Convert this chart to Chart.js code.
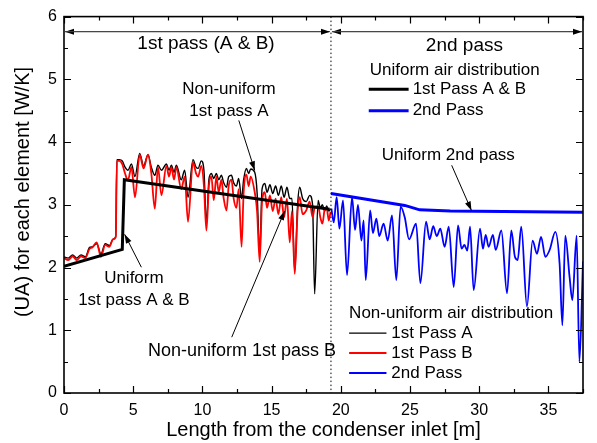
<!DOCTYPE html>
<html><head><meta charset="utf-8">
<script src="https://cdn.jsdelivr.net/npm/chart.js@4.4.1/dist/chart.umd.min.js"></script>
<style>html,body{margin:0;padding:0;background:#fff;}</style>
</head><body>
<canvas id="c" width="597" height="443"></canvas>
<script>
// ---------- data ----------
const pass1X = [0,0.31,0.62,0.92,1.23,1.54,1.85,2.05,2.36,2.67,2.98,3.28,3.54,3.74,3.82,4.00,4.21,4.41,4.62,4.87,5.13,5.47,5.75,6.07,6.31,6.56,6.79,7.04,7.40,7.59,7.76,7.95,8.12,8.47,8.72,8.96,9.32,9.54,9.69,9.92,10.11,10.29,10.47,10.65,10.82,11.01,11.18,11.37,11.54,11.74,11.90,12.10,12.26,12.46,12.62,12.83,12.98,13.18,13.34,13.49,13.78,13.95,14.14,14.31,14.51,14.67,14.88,15.08,15.29,15.49,15.70,15.90,16.11,16.31,16.47,16.67,16.88,17.03,17.24,17.50,17.75,17.96,18.11,18.36,18.52,18.67,18.83,18.98,19.13,19.26];
const pass1A = [2.17,2.15,2.20,2.15,2.20,2.17,2.32,2.33,2.38,2.22,2.38,2.35,2.45,2.50,3.72,3.72,3.70,3.60,3.55,3.65,3.45,3.82,3.62,3.80,3.60,3.47,3.63,3.55,3.65,3.55,3.63,3.52,3.63,3.40,3.55,3.12,3.72,3.60,3.58,3.70,3.55,2.70,3.40,3.50,3.42,3.50,3.40,3.47,3.35,3.28,3.45,3.47,3.35,3.30,3.42,3.10,3.40,3.58,3.50,3.57,3.52,3.20,2.22,3.25,3.34,3.20,3.32,3.18,3.30,3.15,3.30,3.12,3.28,3.10,3.10,1.93,3.00,3.28,3.10,3.05,3.15,3.00,1.58,3.07,2.95,3.00,2.90,2.98,2.90,2.94];
const pass1B = [2.15,2.12,2.18,2.12,2.18,2.15,2.30,2.32,2.40,2.17,2.36,2.33,2.45,2.48,3.70,3.70,3.65,3.50,3.39,3.60,3.12,3.80,3.58,3.80,3.50,2.94,3.60,3.15,3.62,3.45,3.60,3.40,3.60,3.25,3.45,2.73,3.68,3.50,3.45,3.62,3.30,2.59,3.30,3.45,3.07,3.45,3.20,3.40,3.10,2.91,3.30,3.40,3.10,2.95,3.25,2.33,3.20,3.48,3.30,3.45,3.20,2.90,2.09,3.05,3.20,2.95,3.15,2.90,3.10,2.85,3.12,2.80,3.10,2.40,2.90,1.90,2.90,3.12,2.85,2.91,3.05,2.80,2.95,2.98,2.80,2.70,2.92,2.95,2.75,2.89];
const pass2X = [19.32,19.49,19.70,19.90,20.16,20.45,20.81,21.03,21.24,21.49,21.65,21.80,22.12,22.32,22.57,22.78,23.09,23.39,23.70,24.01,24.32,24.62,24.93,25.44,25.75,26.16,26.42,26.68,26.93,27.19,27.50,27.80,28.16,28.47,28.73,28.93,29.14,29.34,29.60,30.06,30.27,30.47,30.68,30.99,31.19,31.60,32.01,32.32,32.58,32.78,33.04,33.45,33.86,34.17,34.47,34.78,35.09,35.50,35.81,36.01,36.22,36.53,36.73,37.04,37.24,37.50];
const pass2Y = [2.94,2.72,3.12,2.62,3.07,1.88,3.12,2.60,3.00,2.43,2.75,1.80,2.91,2.55,2.78,2.50,2.70,2.43,2.83,1.80,2.97,2.80,2.45,2.70,1.75,2.73,2.45,2.66,2.50,2.62,2.33,2.65,1.69,2.67,2.30,2.36,2.27,2.65,1.64,2.62,2.30,2.52,2.33,2.52,2.28,2.59,1.59,2.59,2.17,2.12,2.65,1.38,2.43,2.22,2.49,2.17,2.28,2.57,2.06,1.08,2.51,1.85,1.48,2.51,0.50,2.10];
const uni1X = [0,4.21,4.36,19.19];
const uni1Y = [2.02,2.29,3.40,2.93];
const uni2X = [19.29,24.62,25.70,27.91,37.5];
const uni2Y = [3.18,2.99,2.92,2.90,2.88];
const passBoundary = 19.29;
const xMajor = [0,5,10,15,20,25,30,35];
const xMinor = [2.5,7.5,12.5,17.5,22.5,27.5,32.5,37.5];
const yMajor = [0,1,2,3,4,5,6];
const yMinor = [0.5,1.5,2.5,3.5,4.5,5.5];

// ---------- helpers ----------
const FONT = "'Liberation Sans', Arial, Helvetica, sans-serif";
const toXY = (xs, ys) => xs.map((x, i) => ({x, y: ys[i]}));

function drawArrowHead(ctx, x1, y1, x2, y2, len, half) {
  const a = Math.atan2(y2 - y1, x2 - x1);
  ctx.beginPath();
  ctx.moveTo(x2, y2);
  ctx.lineTo(x2 - len * Math.cos(a) + half * Math.sin(a), y2 - len * Math.sin(a) - half * Math.cos(a));
  ctx.lineTo(x2 - len * Math.cos(a) - half * Math.sin(a), y2 - len * Math.sin(a) + half * Math.cos(a));
  ctx.closePath();
  ctx.fill();
}
function arrow(ctx, x1, y1, x2, y2, color) {
  ctx.strokeStyle = color || '#000'; ctx.fillStyle = '#000'; ctx.lineWidth = 1;
  ctx.beginPath(); ctx.moveTo(x1, y1); ctx.lineTo(x2, y2); ctx.stroke();
  drawArrowHead(ctx, x1, y1, x2, y2, 9, 3);
}

const overlay = {
  id: 'overlay',
  afterDatasetsDraw(chart) {
    const {ctx, chartArea: a, scales: {x, y}} = chart;
    const px = v => x.getPixelForValue(v), py = v => y.getPixelForValue(v);
    ctx.save();
    // dotted boundary
    ctx.strokeStyle = '#000'; ctx.lineWidth = 1; ctx.setLineDash([1.5, 2.5]);
    ctx.beginPath(); ctx.moveTo(px(passBoundary), a.top); ctx.lineTo(px(passBoundary), a.bottom); ctx.stroke();
    ctx.setLineDash([]);
    // frame
    ctx.lineWidth = 1.6; ctx.strokeStyle = '#000';
    ctx.strokeRect(a.left, a.top, a.right - a.left, a.bottom - a.top);
    // ticks (inward, mirrored)
    ctx.lineWidth = 1.2;
    const tk = (vals, len) => {
      vals.forEach(v => {
        const p = Math.round(px(v)) + 0.5;
        ctx.beginPath(); ctx.moveTo(p, a.bottom); ctx.lineTo(p, a.bottom - len);
        ctx.moveTo(p, a.top); ctx.lineTo(p, a.top + len); ctx.stroke();
      });
    };
    const tky = (vals, len) => {
      vals.forEach(v => {
        const p = Math.round(py(v)) + 0.5;
        ctx.beginPath(); ctx.moveTo(a.left, p); ctx.lineTo(a.left + len, p);
        ctx.moveTo(a.right, p); ctx.lineTo(a.right - len, p); ctx.stroke();
      });
    };
    tk(xMajor, 7); tk(xMinor, 4); tky(yMajor, 7); tky(yMinor, 4);

    // pass span arrows
    const ya = py(5.76);
    arrow(ctx, px(passBoundary) - 2, ya, px(0) + 1, ya, '#444');
    arrow(ctx, px(0) + 1, ya, px(passBoundary) - 1, ya, '#444');
    arrow(ctx, px(37.5) - 1, ya, px(passBoundary) + 1, ya, '#444');
    arrow(ctx, px(passBoundary) + 1, ya, px(37.5) - 1, ya, '#444');

    ctx.fillStyle = '#000';
    ctx.textBaseline = 'middle';
    ctx.textAlign = 'center';
    ctx.font = `19px ${FONT}`;
    ctx.fillText('1st pass (A & B)', px(10.26), py(5.57));
    ctx.fillText('2nd pass', px(28.93), py(5.54));

    ctx.font = `17px ${FONT}`;
    ctx.fillText('Non-uniform', px(11.92), py(4.84));
    ctx.fillText('1st pass A', px(11.92), py(4.49));
    ctx.fillText('Uniform', px(5.05), py(1.83));
    ctx.fillText('1st pass A & B', px(5.05), py(1.48));
    ctx.font = `18px ${FONT}`;
    ctx.fillText('Non-uniform 1st pass B', px(12.86), py(0.67));
    ctx.font = `17px ${FONT}`;
    ctx.textAlign = 'left';
    ctx.fillText('Uniform 2nd pass', px(22.95), py(3.79));

    // annotation arrows
    arrow(ctx, px(12.63), py(4.345), px(13.78), py(3.55));
    arrow(ctx, px(5.59), py(2.005), px(4.38), py(2.53));
    arrow(ctx, px(12.12), py(0.89), px(15.94), py(2.90));
    arrow(ctx, px(28.01), py(3.63), px(29.44), py(2.91));

    // uniform legend
    ctx.fillStyle = '#000';
    ctx.textAlign = 'left';
    ctx.font = `17px ${FONT}`;
    ctx.fillText('Uniform air distribution', px(22.09), py(5.14));
    const legLine = (x1, x2, yv, color, w) => {
      ctx.strokeStyle = color; ctx.lineWidth = w;
      ctx.beginPath(); ctx.moveTo(px(x1), py(yv)); ctx.lineTo(px(x2), py(yv)); ctx.stroke();
    };
    legLine(22.02, 24.90, 4.84, '#000', 3);
    ctx.fillText('1st Pass A & B', px(25.19), py(4.84));
    legLine(22.02, 24.90, 4.50, '#0000ff', 3);
    ctx.fillText('2nd Pass', px(25.19), py(4.50));

    // non-uniform legend
    ctx.fillText('Non-uniform air distribution', px(20.6), py(1.27));
    legLine(20.6, 23.3, 0.955, '#000', 1.3);
    ctx.fillText('1st Pass A', px(23.65), py(0.955));
    legLine(20.6, 23.3, 0.637, '#ff0000', 2);
    ctx.fillText('1st Pass B', px(23.65), py(0.637));
    legLine(20.6, 23.3, 0.318, '#0000ff', 2);
    ctx.fillText('2nd Pass', px(23.65), py(0.318));

    // axis titles
    ctx.font = `20px ${FONT}`;
    ctx.textAlign = 'center';
    ctx.fillText('Length from the condenser inlet [m]', (a.left + a.right) / 2, 430);
    ctx.save();
    ctx.translate(23, 192);
    ctx.rotate(-Math.PI / 2);
    ctx.fillText('(UA) for each element [W/K]', 0, 0);
    ctx.restore();

    ctx.restore();
  }
};

new Chart(document.getElementById('c'), {
  type: 'line',
  data: {
    datasets: [
      {label: 'Uniform 1st Pass A & B', data: toXY(uni1X, uni1Y), borderColor: '#000', borderWidth: 3, pointRadius: 0, tension: 0},
      {label: 'Uniform 2nd Pass', data: toXY(uni2X, uni2Y), borderColor: '#0000ff', borderWidth: 3, pointRadius: 0, tension: 0},
      {label: 'Non-uniform 1st Pass B', data: toXY(pass1X, pass1B), borderColor: '#ff0000', borderWidth: 1.8, pointRadius: 0, cubicInterpolationMode: 'monotone'},
      {label: 'Non-uniform 1st Pass A', data: toXY(pass1X, pass1A), borderColor: '#000', borderWidth: 1.4, pointRadius: 0, cubicInterpolationMode: 'monotone'},
      {label: 'Non-uniform 2nd Pass', data: toXY(pass2X, pass2Y), borderColor: '#0000ff', borderWidth: 1.8, pointRadius: 0, cubicInterpolationMode: 'monotone'}
    ]
  },
  options: {
    responsive: false,
    animation: false,
    devicePixelRatio: 1,
    layout: {padding: {top: 16, right: 14, left: 0, bottom: 0}},
    plugins: {legend: {display: false}, tooltip: {enabled: false}},
    scales: {
      x: {
        type: 'linear', min: 0, max: 37.5,
        afterFit: s => { s.height = 50; },
        grid: {display: false, drawTicks: false},
        border: {display: false},
        ticks: {stepSize: 5, includeBounds: false, autoSkip: false, maxRotation: 0, padding: 8, color: '#000', font: {family: FONT, size: 16}}
      },
      y: {
        type: 'linear', min: 0, max: 6,
        afterFit: s => { s.width = 64; },
        grid: {display: false, drawTicks: false},
        border: {display: false},
        ticks: {stepSize: 1, padding: 7, color: '#000', font: {family: FONT, size: 16}}
      }
    }
  },
  plugins: [overlay]
});
</script>
</body></html>
